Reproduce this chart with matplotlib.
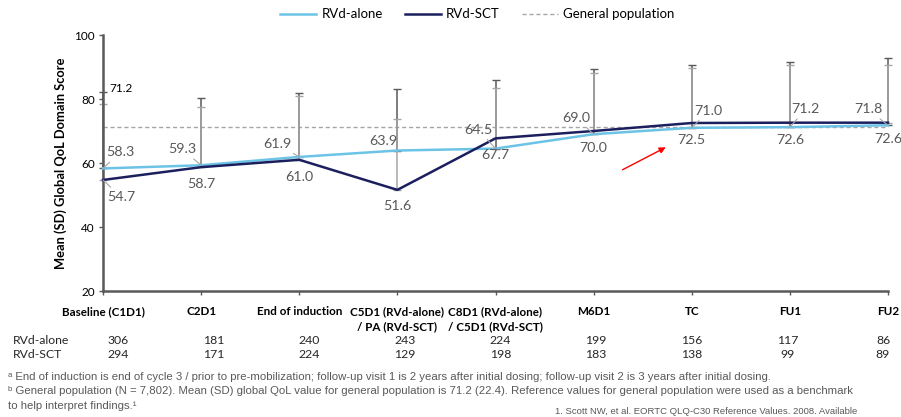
import matplotlib
matplotlib.use("Agg")
import matplotlib.pyplot as plt
import numpy as np

timepoints = ["Baseline (C1D1)", "C2D1", "End of induction",
              "C5D1 (RVd-alone)\n/ PA (RVd-SCT)", "C8D1 (RVd-alone)\n/ C5D1 (RVd-SCT)",
              "M6D1", "TC", "FU1", "FU2"]
rvd_alone = [58.3, 59.3, 61.9, 63.9, 64.5, 69.0, 71.0, 71.2, 71.8]
rvd_sct = [54.7, 58.7, 61.0, 51.6, 67.7, 70.0, 72.5, 72.6, 72.6]
# upper end of the SD bars
rvd_alone_sd_top = [82.2, 80.2, 81.9, 83.0, 85.8, 89.3, 90.5, 91.6, 92.9]
rvd_sct_sd_top = [78.4, 77.4, 81.0, 73.9, 83.3, 88.1, 89.7, 90.5, 90.5]
general_pop = 71.2
n_alone = [306, 181, 240, 243, 224, 199, 156, 117, 86]
n_sct = [294, 171, 224, 129, 198, 183, 138, 99, 89]

# label offsets in pixels from each point
alone_offsets = [(17, 16), (-19, 16), (-22, 13), (-14, 10), (-17, 19),
                 (-17, 16), (17, 17), (16, 18), (-20, 16)]
sct_offsets = [(18, -17), (0, -17), (0, -17), (0, -16), (0, -17),
               (0, -17), (0, -17), (0, -17), (0, -16)]

LIGHT = "#6cc3e6"
NAVY = "#1c1f5e"
GRID = "#595959"
CHART_FONT = ["Lato", "DejaVu Sans"]
NOTE_FONT = ["Liberation Sans", "DejaVu Sans"]

fig = plt.figure(figsize=(9.01, 4.17), dpi=100)
ax = fig.add_axes([103 / 901, 1 - 291 / 417, 785 / 901, 256 / 417])

x = np.arange(len(timepoints))
alone = np.array(rvd_alone)
sct = np.array(rvd_sct)

ax.plot(x, [general_pop] * len(x), ls=(0, (3, 2)), color="#a6a6a6", lw=1.0,
        zorder=1, label="General population", clip_on=False)

eb1 = ax.errorbar(x, alone, yerr=[np.zeros(len(x)), np.array(rvd_alone_sd_top) - alone],
                  fmt="none", ecolor="#595959", elinewidth=1.1, capsize=3,
                  capthick=1.0, zorder=2)
eb2 = ax.errorbar(x, sct, yerr=[np.zeros(len(x)), np.array(rvd_sct_sd_top) - sct],
                  fmt="none", ecolor="#a6a6a6", elinewidth=1.1, capsize=3,
                  capthick=1.0, zorder=2.5)
for eb in (eb1, eb2):
    for art in eb.get_children():
        art.set_clip_on(False)

l1, = ax.plot(x, alone, color=LIGHT, lw=1.8, zorder=3, label="RVd-alone", clip_on=False)
l2, = ax.plot(x, sct, color=NAVY, lw=1.8, zorder=4, label="RVd-SCT", clip_on=False)

for i, v in enumerate(rvd_alone):
    props = None if i == 3 else dict(arrowstyle="-", color="#a6a6a6", lw=0.8,
                                      shrinkA=1, shrinkB=0)
    ax.annotate(f"{v:.1f}", (x[i], v), xytext=alone_offsets[i], textcoords="offset pixels",
                ha="center", va="center", fontsize=10.3, color="#595959",
                family=CHART_FONT, arrowprops=props, annotation_clip=False, zorder=6)
for i, v in enumerate(rvd_sct):
    props = dict(arrowstyle="-", color="#a6a6a6", lw=0.8, shrinkA=1, shrinkB=0) if i == 0 else None
    ax.annotate(f"{v:.1f}", (x[i], v), xytext=sct_offsets[i], textcoords="offset pixels",
                ha="center", va="center", fontsize=10.3, color="#595959",
                family=CHART_FONT, arrowprops=props, annotation_clip=False, zorder=6)
ax.annotate(f"{general_pop:.1f}", (x[0], general_pop), xytext=(18, 39),
            textcoords="offset pixels", ha="center", va="center", fontsize=8.5,
            color="black", family=CHART_FONT, annotation_clip=False)

ax.annotate("", xy=(5.76, 65.3), xytext=(5.27, 57.5),
            arrowprops=dict(arrowstyle="-|>", color="red", lw=1.0, mutation_scale=9))

ax.set_xlim(0, len(x) - 1)
ax.set_ylim(20, 100)
ax.set_yticks([20, 40, 60, 80, 100])
ax.set_xticks(x)
ax.set_xticklabels(timepoints, fontweight="bold", fontsize=8.4, family=CHART_FONT,
                   linespacing=1.4)
for t in ax.get_yticklabels():
    t.set_family(CHART_FONT)
    t.set_fontsize(8.5)
ax.tick_params(axis="both", direction="out", length=3, width=1, color=GRID)
ax.tick_params(axis="x", pad=8)
ax.tick_params(axis="y", pad=3)
for s in ("top", "right"):
    ax.spines[s].set_visible(False)
for s in ("left", "bottom"):
    ax.spines[s].set_color(GRID)
    ax.spines[s].set_linewidth(1.8)
ax.set_ylabel("Mean (SD) Global QoL Domain Score", fontweight="bold", fontsize=9.3,
              family=CHART_FONT, labelpad=5)

fig.legend(handles=[l1, l2, ax.lines[0]], loc="center", bbox_to_anchor=(0.53, 0.966),
           ncol=3, frameon=False, handlelength=2.7, handletextpad=0.4,
           columnspacing=1.7, prop={"family": CHART_FONT, "size": 9.5})

# sample size table
cols = np.linspace(118, 883, len(x)) / 901
for row_y, name, counts in ((340, "RVd-alone", n_alone), (355, "RVd-SCT", n_sct)):
    fig.text(13 / 901, 1 - row_y / 417, name, ha="left", va="center",
             fontsize=8.8, family=CHART_FONT, color="#262626")
    for cx, n in zip(cols, counts):
        fig.text(cx, 1 - row_y / 417, str(n), ha="center", va="center",
                 fontsize=8.8, family=CHART_FONT, color="#262626")

notes = [
    "\u1d43 End of induction is end of cycle 3 / prior to pre-mobilization; follow-up visit 1 is 2 years after initial dosing; follow-up visit 2 is 3 years after initial dosing.",
    "\u1d47 General population (N = 7,802). Mean (SD) global QoL value for general population is 71.2 (22.4). Reference values for general population were used as a benchmark",
    "to help interpret findings.\u00b9",
]
for k, line in enumerate(notes):
    fig.text(8 / 901, 1 - (377 + 14.5 * k) / 417, line, ha="left", va="center",
             fontsize=8.2, family=NOTE_FONT, color="#595959")
fig.text(555 / 901, 1 - 416 / 417,
         "1. Scott NW, et al. EORTC QLQ-C30 Reference Values. 2008. Available",
         ha="left", va="bottom", fontsize=6.8, family=NOTE_FONT, color="#595959")

fig.savefig("out.png", dpi=100)
